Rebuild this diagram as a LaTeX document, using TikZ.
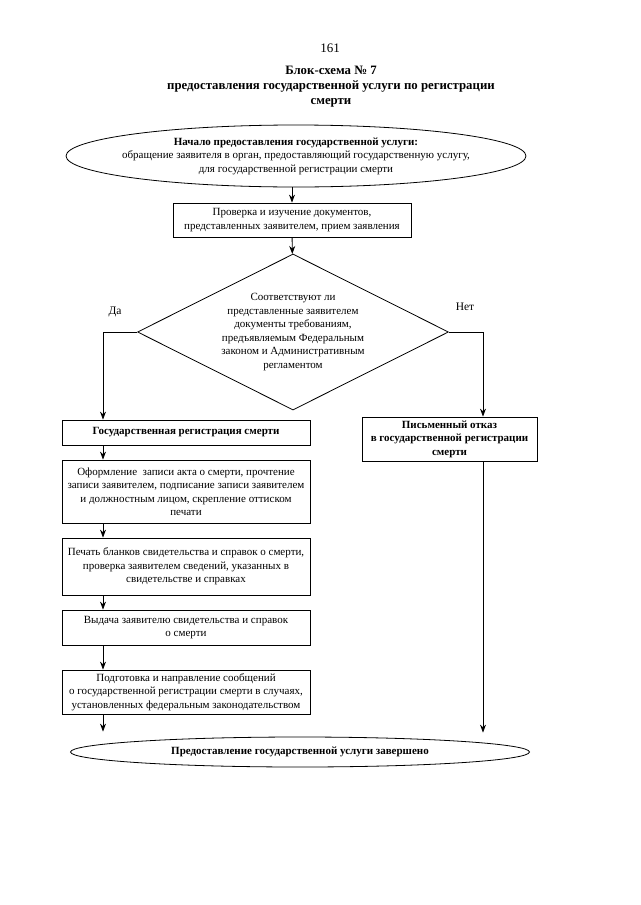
\documentclass[tikz,border=0pt]{standalone}
\usepackage{fontspec}
\setmainfont{Liberation Serif}
\usetikzlibrary{shapes.geometric, arrows.meta, positioning, calc}
\tikzset{
  startstop/.style={ellipse, draw=black, line width=0.8pt,
    inner sep=0pt, text centered, align=center,
    font=\fontsize{11}{13.5}\selectfont},
  process/.style={rectangle, draw=black, line width=0.8pt,
    minimum width=248pt, inner sep=0pt, text centered, align=center,
    font=\fontsize{11}{13.5}\selectfont},
  decision/.style={diamond, aspect=2, draw=black, line width=0.8pt,
    inner sep=0pt, text centered, align=center,
    font=\fontsize{11}{13.5}\selectfont},
  answer/.style={font=\fontsize{11.5}{13}\selectfont},
  arr/.style={-{Stealth[length=8pt, width=6pt]}, line width=0.9pt},
  wire/.style={line width=0.9pt},
}

\begin{document}
\begin{tikzpicture}[x=1pt, y=-1pt]
\useasboundingbox[fill=white] (0,0) rectangle (640,905);

% Title
\node (num) [font=\fontsize{13}{15}\selectfont] at (330,48) {161};
\node (title) [font=\bfseries\fontsize{12.8}{15}\selectfont, align=center] at (331,87)
  {Блок-схема № 7\\
   предоставления государственной услуги по регистрации\\
   смерти};

% Entry
\node (start) [startstop, inner xsep=-14pt, minimum width=460pt, minimum height=62pt] at (296,156)
  {\textbf{Начало предоставления государственной услуги:}\\
   обращение заявителя в орган, предоставляющий государственную услугу,\\
   для государственной регистрации смерти};

\node (check) [process, minimum width=238pt, minimum height=34pt] at (292,220)
  {Проверка и изучение документов,\\
   представленных заявителем, прием заявления};

\node (dec) [decision, minimum width=311pt, minimum height=156pt] at (293,332)
  {Соответствуют ли\\
   представленные заявителем\\
   документы требованиям,\\
   предъявляемым Федеральным\\
   законом и Административным\\
   регламентом};

\coordinate (yes) at (103,332);
\coordinate (no)  at (483,332);
\node (da)  [answer] at (115,312) {Да};
\node (net) [answer] at (465,307) {Нет};

% Yes branch
\node (reg) [process, minimum height=25pt, font=\bfseries\fontsize{11}{13.5}\selectfont] at (186,432.5)
  {Государственная регистрация смерти};

\node (act) [process, minimum height=63pt] at (186,491.5)
  {Оформление\ \ записи акта о смерти, прочтение\\
   записи заявителем, подписание записи заявителем\\
   и должностным лицом, скрепление оттиском\\
   печати};

\node (print) [process, minimum height=57pt] at (186,566.5)
  {Печать бланков свидетельства и справок о смерти,\\
   проверка заявителем сведений, указанных в\\
   свидетельстве и справках};

\node (issue) [process, minimum height=35pt] at (186,627.5)
  {Выдача заявителю свидетельства и справок\\
   о смерти};

\node (notify) [process, minimum height=44pt] at (186,692)
  {Подготовка и направление сообщений\\
   о государственной регистрации смерти в случаях,\\
   установленных федеральным законодательством};

% No branch
\node (refuse) [process, minimum width=175pt, minimum height=44pt,
  font=\bfseries\fontsize{11}{13.5}\selectfont] at (449.5,439)
  {Письменный отказ\\
   в государственной регистрации\\
   смерти};

% Exit
\node (stop) [startstop, minimum width=459pt, minimum height=30pt,
  font=\bfseries\fontsize{11}{13.5}\selectfont] at (300,752)
  {Предоставление государственной услуги завершено};

% Arrows
\draw[arr] (start.south -| check.north) -- (check.north);
\draw[arr] (check) -- (dec);
\draw[wire] (dec.west) -- (yes);
\draw[arr] (yes) -- (yes |- reg.north);
\draw[wire] (dec.east) -- (no);
\draw[arr] (no) -- (no |- refuse.north);
\draw[arr] (yes |- reg.south) -- (yes |- act.north);
\draw[arr] (yes |- act.south) -- (yes |- print.north);
\draw[arr] (yes |- print.south) -- (yes |- issue.north);
\draw[arr] (yes |- issue.south) -- (yes |- notify.north);
\draw[arr] (yes |- notify.south) -- ([yshift=5pt]yes |- stop.north);
\draw[arr] (no |- refuse.south) -- ([yshift=4pt]no |- stop.north);

\end{tikzpicture}
\end{document}
